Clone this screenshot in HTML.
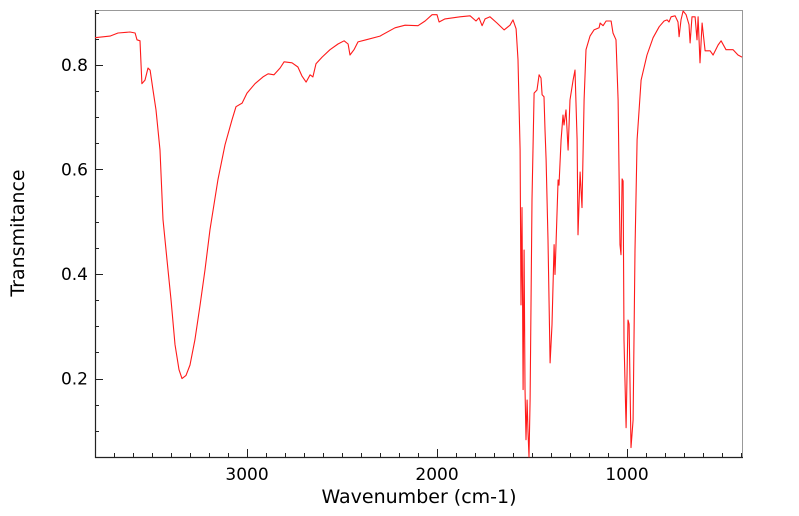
<!DOCTYPE html>
<html><head><meta charset="utf-8"><style>
html,body{margin:0;padding:0;background:#fff;}
svg{display:block;font-family:"DejaVu Sans","Liberation Sans",sans-serif;}
</style></head><body>
<svg id="chart" width="799" height="516" viewBox="0 0 799 516">
<rect x="95.5" y="10.5" width="647" height="447" fill="none" stroke="#999" stroke-width="1"/>
<line x1="95.5" y1="10" x2="95.5" y2="458" stroke="#222" stroke-width="1.2"/>
<line x1="95" y1="457.5" x2="743" y2="457.5" stroke="#222" stroke-width="1.2"/>
<g id="ticks"></g>
<path id="spectrum" fill="none" stroke="#ff1a1a" stroke-width="1.1" stroke-linejoin="round"/>
<text x="419" y="503" font-size="19" text-anchor="middle" fill="#000">Wavenumber (cm-1)</text>
<text transform="translate(24,233) rotate(-90)" font-size="19" text-anchor="middle" fill="#000">Transmitance</text>
</svg>
<script>
const wavenumbers=[3800,3721,3679,3616,3589,3579,3563,3553,3537,3521,3510,3495,3479,3458,3442,3421,3400,3379,3358,3342,3321,3300,3274,3247,3221,3195,3153,3116,3079,3058,3026,3000,2958,2916,2889,2858,2826,2805,2763,2732,2711,2689,2668,2653,2637,2605,2563,2521,2489,2468,2458,2437,2416,2374,2300,2221,2168,2100,2063,2026,2000,1989,1958,1879,1826,1795,1779,1763,1747,1721,1684,1647,1616,1600,1584,1574,1563,1558,1553,1547,1542,1537,1532,1526,1521,1516,1510,1500,1489,1474,1463,1453,1447,1437,1432,1426,1416,1405,1395,1384,1379,1374,1363,1358,1347,1337,1332,1321,1310,1300,1284,1274,1263,1258,1247,1237,1226,1216,1195,1174,1147,1142,1126,1110,1084,1074,1058,1047,1037,1032,1026,1021,1016,1005,995,989,979,968,958,947,926,895,863,831,805,789,779,768,747,732,726,716,705,689,674,668,658,642,632,626,616,605,589,563,547,521,505,479,442,416,395];
const transmittance=[0.852,0.855,0.861,0.863,0.861,0.848,0.846,0.764,0.771,0.794,0.790,0.752,0.714,0.637,0.504,0.427,0.351,0.265,0.217,0.200,0.206,0.226,0.274,0.341,0.408,0.485,0.580,0.647,0.695,0.720,0.727,0.746,0.764,0.777,0.783,0.781,0.794,0.806,0.804,0.796,0.779,0.767,0.781,0.777,0.802,0.815,0.829,0.840,0.846,0.840,0.819,0.829,0.844,0.848,0.855,0.871,0.876,0.875,0.884,0.896,0.896,0.882,0.888,0.892,0.894,0.884,0.890,0.875,0.888,0.892,0.880,0.867,0.876,0.886,0.869,0.810,0.637,0.341,0.527,0.179,0.446,0.182,0.083,0.159,0.098,0.050,0.159,0.542,0.746,0.752,0.781,0.775,0.743,0.739,0.676,0.619,0.465,0.230,0.303,0.456,0.399,0.456,0.580,0.570,0.657,0.704,0.685,0.714,0.637,0.733,0.771,0.790,0.657,0.475,0.595,0.527,0.733,0.829,0.855,0.867,0.871,0.880,0.875,0.884,0.884,0.861,0.848,0.733,0.456,0.437,0.582,0.578,0.274,0.106,0.312,0.304,0.068,0.121,0.446,0.657,0.771,0.819,0.852,0.873,0.884,0.886,0.882,0.892,0.894,0.882,0.854,0.886,0.903,0.896,0.877,0.842,0.892,0.892,0.848,0.892,0.804,0.880,0.827,0.827,0.819,0.838,0.846,0.829,0.829,0.819,0.815];
const xTicks=[1000,2000,3000];
const xTickLabels=["1000","2000","3000"];
const yTicks=[0.2,0.4,0.6,0.8];
const yTickLabels=["0.2","0.4","0.6","0.8"];
const X0=95,X1=742,Y0=10,Y1=457,WMAX=3800,WMIN=395,TMAX=0.905,TMIN=0.05;
function xs(w){return X0+(WMAX-w)/(WMAX-WMIN)*(X1-X0);}
function ys(t){return Y0+(TMAX-t)/(TMAX-TMIN)*(Y1-Y0);}
const NS="http://www.w3.org/2000/svg";
const g=document.getElementById('ticks');
function line(x1,y1,x2,y2,name){const l=document.createElementNS(NS,'line');
l.setAttribute('x1',x1);l.setAttribute('y1',y1);l.setAttribute('x2',x2);l.setAttribute('y2',y2);
l.setAttribute('stroke','#222');l.setAttribute('stroke-width','1');


g.appendChild(l);}
function text(x,y,s,anchor,name){const t=document.createElementNS(NS,'text');
t.setAttribute('x',x);t.setAttribute('y',y);t.setAttribute('font-size','17');t.setAttribute('text-anchor',anchor);t.textContent=s;


g.appendChild(t);}
for(let w=400;w<=3800;w+=100){const x=Math.round(xs(w))+0.5;const major=w%1000===0;line(x,457,x,457-(major?8:4),major?'x-major-tick':'x-minor-tick');}
xTicks.forEach((w,i)=>text(xs(w),480,xTickLabels[i],'middle','x-tick-label'));
for(let k=1;k<=18;k++){const t=k*0.05;if(t>TMAX)break;if(t<TMIN)continue;const y=Math.round(ys(t))+0.5;const major=Math.abs(t*10-Math.round(t*10))<1e-6&&Math.round(t*10)%2===0;line(95,y,95+(major?8:4),y,major?'y-major-tick':'y-minor-tick');}
yTicks.forEach((t,i)=>text(88,ys(t)+6,yTickLabels[i],'end','y-tick-label'));
let d='';wavenumbers.forEach((w,i)=>{d+=(i?'L':'M')+xs(w).toFixed(1)+','+ys(transmittance[i]).toFixed(1);});
document.getElementById('spectrum').setAttribute('d',d);
</script>
</body></html>
